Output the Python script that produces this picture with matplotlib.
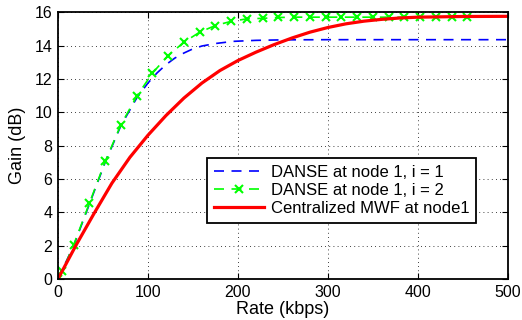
#
# Gain versus rate plot for DANSE and centralized MWF
#

import matplotlib
matplotlib.use("Agg")
import matplotlib.pyplot as plt

# values (rate in kbps, gain in dB)
rate_i1 = [0, 17.5, 35, 52.5, 70, 87.5, 100, 110, 120, 130, 140, 150, 160, 175, 195, 220, 250, 300, 400, 500]
gain_i1 = [0, 2.0, 4.5, 7.0, 9.2, 10.85, 11.75, 12.35, 12.85, 13.25, 13.55, 13.8, 13.97, 14.12, 14.25,
           14.31, 14.34, 14.35, 14.35, 14.35]

rate_i2 = [0, 5, 17.5, 35, 52.5, 70, 87.5, 105, 122.5, 140, 157.5, 175, 192.5, 210, 227.5,
           245, 262.5, 280, 297.5, 315, 332.5, 350, 367.5, 385, 402.5, 420, 437.5, 455]
gain_i2 = [0, 0.5, 2.05, 4.55, 7.05, 9.25, 10.95, 12.35, 13.4, 14.2, 14.8, 15.2, 15.45, 15.6, 15.63,
           15.68, 15.7, 15.7, 15.7, 15.7, 15.7, 15.7, 15.7, 15.7, 15.7, 15.7, 15.7, 15.7]

rate_mwf = [0, 20, 40, 60, 80, 100, 120, 140, 160, 180, 200, 220, 240, 260, 280, 300, 320, 340,
            360, 380, 400, 450, 500]
gain_mwf = [0, 2.02, 3.92, 5.75, 7.3, 8.62, 9.8, 10.85, 11.75, 12.5, 13.1, 13.6, 14.05, 14.45, 14.8,
            15.08, 15.3, 15.46, 15.57, 15.65, 15.7, 15.74, 15.75]

x_ticks = [0, 100, 200, 300, 400, 500]
y_ticks = [0, 2, 4, 6, 8, 10, 12, 14, 16]

labels = ["DANSE at node 1, i = 1", "DANSE at node 1, i = 2", "Centralized MWF at node1"]

plt.rcParams['font.family'] = ['Liberation Sans', 'DejaVu Sans']

fig = plt.figure(figsize=(5.22, 3.2), dpi=100)
ax = fig.add_axes([0.111, 0.128, 0.862, 0.834])

ax.plot(rate_i1, gain_i1, color='#0000ff', linestyle=(0, (6, 4.5)), linewidth=1.2, label=labels[0])
ax.plot(rate_i2, gain_i2, color='#00ff00', linestyle=(0, (6, 4.5)), linewidth=1.2,
        marker='x', markersize=6, markeredgewidth=1.5, label=labels[1])
ax.plot(rate_mwf, gain_mwf, color='#ff0000', linewidth=2.3, label=labels[2])

ax.set_xlim(0, 500)
ax.set_ylim(0, 16)
ax.set_xticks(x_ticks)
ax.set_yticks(y_ticks)
ax.tick_params(direction='in', top=True, right=True, length=4, width=0.8, labelsize=11.5, pad=4)

# matlab style dotted grid
ax.grid(True, color='k', linestyle=(0, (1, 4)), linewidth=0.6)
for s in ax.spines.values():
    s.set_linewidth(1.3)

ax.set_xlabel('Rate (kbps)', fontsize=13, labelpad=1)
ax.set_ylabel('Gain (dB)', fontsize=13, labelpad=6)

leg = ax.legend(loc='lower right', bbox_to_anchor=(0.929, 0.21), borderaxespad=0,
                fontsize=12, numpoints=1, handlelength=3.0, handletextpad=0.4,
                labelspacing=0.2, borderpad=0.4, fancybox=False, framealpha=1,
                edgecolor='k')
leg.get_frame().set_linewidth(1.3)

fig.savefig('out.png', dpi=100)
